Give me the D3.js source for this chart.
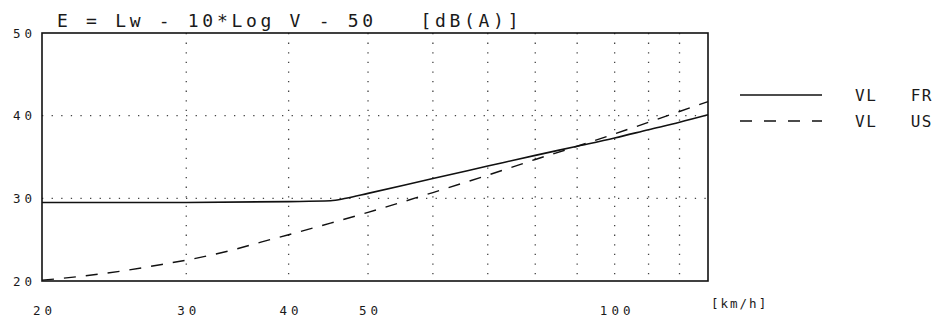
<!DOCTYPE html>
<html>
<head>
<meta charset="utf-8">
<script src="https://cdn.jsdelivr.net/npm/d3@7"></script>
<style>
  html, body { margin: 0; padding: 0; background: #fff; }
  svg text { font-family: "DejaVu Sans Mono", "Liberation Mono", monospace; fill: #1a1a1a; }
</style>
</head>
<body>
<svg id="chart" width="945" height="319"></svg>
<script>
// ---- data ----
const titleText = "E = Lw - 10*Log V - 50   [dB(A)]";
const xUnit = "[km/h]";
const xTickLabels = [20, 30, 40, 50, 100];
const xGridValues = [30, 40, 50, 60, 70, 80, 90, 100, 110, 120];
const yTickLabels = [20, 30, 40, 50];
const yGridValues = [30, 40];
const seriesNames = ["VL   FR", "VL   US"];
const frSpeed = [20, 30, 40, 45, 47, 50, 60, 70, 80, 90, 100, 110, 120, 130];
const frLevel = [29.5, 29.5, 29.6, 29.7, 30.0, 30.6, 32.4, 33.9, 35.2, 36.3, 37.3, 38.3, 39.2, 40.1];
const usSpeed = [20, 22, 25, 28, 31, 34, 37, 40, 45, 50, 60, 70, 80, 90, 100, 110, 120, 130];
const usLevel = [20.1, 20.5, 21.2, 22.0, 22.8, 23.7, 24.7, 25.6, 27.0, 28.3, 30.7, 32.8, 34.7, 36.3, 37.8, 39.2, 40.5, 41.7];

// ---- layout ----
const svg = d3.select("#chart");
const L = 42, R = 708, T = 33, B = 281;
const x = d3.scaleLog().domain([20, 130]).range([L, R]);
const y = d3.scaleLinear().domain([20, 50]).range([B, T]);

// grid
svg.append("g").selectAll("line").data(xGridValues).join("line")
  .attr("x1", d => x(d)).attr("x2", d => x(d))
  .attr("y1", T).attr("y2", B)
  .attr("stroke", "#444").attr("stroke-width", 1.3)
  .attr("stroke-dasharray", "1.3,8.3");
svg.append("g").selectAll("line").data(yGridValues).join("line")
  .attr("x1", L).attr("x2", R)
  .attr("y1", d => y(d)).attr("y2", d => y(d))
  .attr("stroke", "#444").attr("stroke-width", 1.3)
  .attr("stroke-dasharray", "1.3,8.3");

// frame
svg.append("rect").attr("x", L).attr("y", T).attr("width", R - L).attr("height", B - T)
  .attr("fill", "none").attr("stroke", "#111").attr("stroke-width", 1.6);

// series
const line = d3.line().x(d => x(d[0])).y(d => y(d[1])).curve(d3.curveMonotoneX);
svg.append("path").datum(d3.zip(frSpeed, frLevel)).attr("d", line)
  .attr("fill", "none").attr("stroke", "#111").attr("stroke-width", 1.6);
svg.append("path").datum(d3.zip(usSpeed, usLevel)).attr("d", line)
  .attr("fill", "none").attr("stroke", "#111").attr("stroke-width", 1.4)
  .attr("stroke-dasharray", "12,10");

// x axis labels
const xAxis = d3.axisBottom(x).tickValues(xTickLabels).tickSize(0).tickFormat(d3.format("d"));
const gx = svg.append("g").attr("transform", `translate(0,${B + 22})`).call(xAxis);
gx.select(".domain").remove();
gx.selectAll("text").attr("font-size", 12.5).attr("letter-spacing", 4)
  .attr("dx", 2).attr("font-family", "DejaVu Sans Mono").attr("fill", "#1a1a1a");
svg.append("text").attr("x", 711).attr("y", B + 27).attr("font-size", 12.5)
  .attr("letter-spacing", 2).text(xUnit);

// y axis labels
const yAxis = d3.axisLeft(y).tickValues(yTickLabels).tickSize(0).tickFormat(d3.format("d"));
const gy = svg.append("g").attr("transform", `translate(${L - 3},0)`).call(yAxis);
gy.select(".domain").remove();
gy.selectAll("text").attr("font-size", 12.5).attr("letter-spacing", 4)
  .attr("font-family", "DejaVu Sans Mono").attr("fill", "#1a1a1a");

// title
svg.append("text").attr("x", 57).attr("y", 27).attr("font-size", 18)
  .attr("letter-spacing", 3.7).style("white-space", "pre").text(titleText);

// legend
const legY = [95, 121];
const leg = svg.append("g");
leg.selectAll("line").data(seriesNames).join("line")
  .attr("x1", 740).attr("x2", 822)
  .attr("y1", (d, i) => legY[i]).attr("y2", (d, i) => legY[i])
  .attr("stroke", "#111").attr("stroke-width", (d, i) => i ? 1.4 : 1.6)
  .attr("stroke-dasharray", (d, i) => i ? "12,12" : null);
leg.selectAll("text").data(seriesNames).join("text")
  .attr("x", 855).attr("y", (d, i) => legY[i] + 6)
  .attr("font-size", 16).attr("letter-spacing", 1.5)
  .style("white-space", "pre").text(d => d);
</script>
</body>
</html>
